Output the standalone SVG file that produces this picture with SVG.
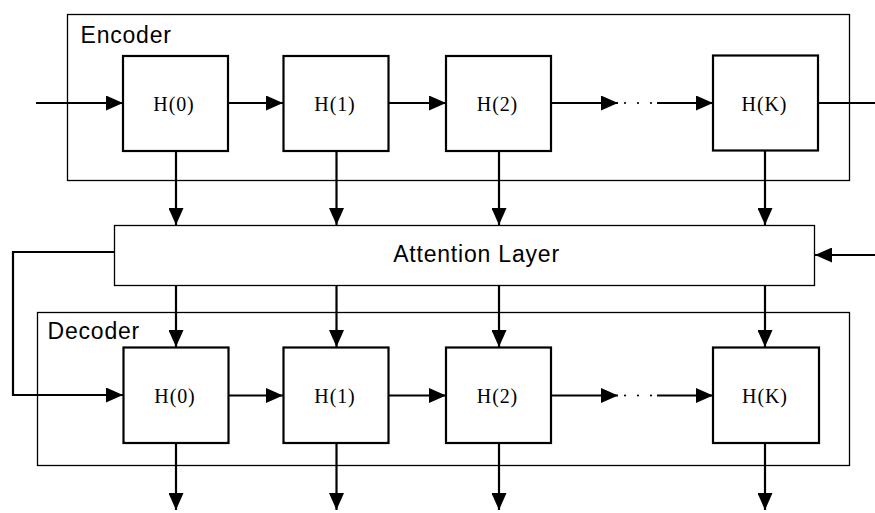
<svg xmlns="http://www.w3.org/2000/svg" width="875" height="513" viewBox="0 0 875 513">
<defs>
<marker id="ah" markerUnits="userSpaceOnUse" markerWidth="17" markerHeight="15" refX="17" refY="7.5" orient="auto">
<path d="M0,0 L17,7.5 L0,15 Z" fill="#000"/>
</marker>
<style>
.outer{fill:none;stroke:#000;stroke-width:1.3}
.cell{fill:#fff;stroke:#000;stroke-width:2.2}
.att{fill:#fff;stroke:#000;stroke-width:1.3}
.c{fill:none;stroke:#000;stroke-width:2.2}
.a{fill:none;stroke:#000;stroke-width:2.2;marker-end:url(#ah)}
.lbl{font-family:"Liberation Sans",Arial,sans-serif;font-size:23px;letter-spacing:0.8px;fill:#000}
.h{font-family:"Liberation Serif","Times New Roman",serif;font-size:20px;letter-spacing:0.9px;fill:#000;text-anchor:middle}
.dot{fill:#000}
</style>
</defs>
<rect width="875" height="513" fill="#fff"/>
<g id="encoder">
<rect class="outer" x="67.5" y="14.5" width="782" height="166"/>
<text class="lbl" x="80.5" y="42.5">Encoder</text>
</g>
<g id="decoder">
<rect class="outer" x="37.5" y="312.5" width="812" height="153"/>
<text class="lbl" x="47.5" y="339">Decoder</text>
</g>
<g id="connectors">
<path class="a" d="M36,103 H123"/>
<path class="a" d="M228,103 H283"/>
<path class="a" d="M389,103 H446"/>
<path class="a" d="M551,103 H618"/>
<path class="a" d="M657,103 H713"/>
<path class="c" d="M818,103 H875"/>
<path class="a" d="M176,151 V225"/>
<path class="a" d="M336.5,151 V225"/>
<path class="a" d="M499,151 V225"/>
<path class="a" d="M765,151 V225"/>
<path class="a" d="M875,255 H815"/>
<path class="a" d="M114,252 H13 V395 H123"/>
<path class="a" d="M176,285 V347"/>
<path class="a" d="M336.5,285 V347"/>
<path class="a" d="M499,285 V347"/>
<path class="a" d="M765,285 V347"/>
<path class="a" d="M228,395.5 H283"/>
<path class="a" d="M389,395.5 H446"/>
<path class="a" d="M551,395.5 H618"/>
<path class="a" d="M657,395.5 H713"/>
<path class="a" d="M176,443 V510"/>
<path class="a" d="M336.5,443 V510"/>
<path class="a" d="M499,443 V510"/>
<path class="a" d="M765,443 V510"/>
<circle class="dot" cx="625" cy="103" r="1.1"/>
<circle class="dot" cx="638" cy="103" r="1.1"/>
<circle class="dot" cx="651" cy="103" r="1.1"/>
<circle class="dot" cx="625" cy="395.5" r="1.1"/>
<circle class="dot" cx="638" cy="395.5" r="1.1"/>
<circle class="dot" cx="651" cy="395.5" r="1.1"/>
</g>
<g id="enc-h0"><rect class="cell" x="123" y="56" width="105" height="95"/><text class="h" x="174" y="111">H(0)</text></g>
<g id="enc-h1"><rect class="cell" x="283.5" y="56" width="105" height="95"/><text class="h" x="335" y="111">H(1)</text></g>
<g id="enc-h2"><rect class="cell" x="446" y="56" width="105" height="95"/><text class="h" x="497.5" y="111">H(2)</text></g>
<g id="enc-hk"><rect class="cell" x="713" y="55.5" width="105" height="95"/><text class="h" x="764.5" y="111">H(K)</text></g>
<g id="attention"><rect class="att" x="114.5" y="225.5" width="700" height="60"/><text class="lbl" x="476.5" y="262" text-anchor="middle" font-size="25.5" letter-spacing="0.9">Attention Layer</text></g>
<g id="dec-h0"><rect class="cell" x="123.5" y="347.5" width="105" height="95.5"/><text class="h" x="175" y="403">H(0)</text></g>
<g id="dec-h1"><rect class="cell" x="283.5" y="347.5" width="105" height="95.5"/><text class="h" x="335" y="403">H(1)</text></g>
<g id="dec-h2"><rect class="cell" x="446" y="347.5" width="105" height="95.5"/><text class="h" x="497.5" y="403">H(2)</text></g>
<g id="dec-hk"><rect class="cell" x="713" y="347.5" width="106" height="95.5"/><text class="h" x="765" y="403">H(K)</text></g>
</svg>
